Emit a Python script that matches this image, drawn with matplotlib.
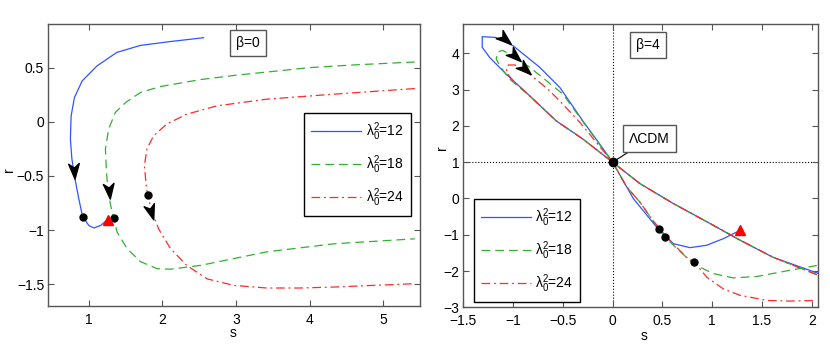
import numpy as np
import matplotlib
matplotlib.use('Agg')
import matplotlib.pyplot as plt
from matplotlib.markers import MarkerStyle
from matplotlib.path import Path
from matplotlib.transforms import Affine2D

plt.rcParams['font.family'] = ['Liberation Sans', 'DejaVu Sans']
plt.rcParams['mathtext.fontset'] = 'custom'
plt.rcParams['mathtext.rm'] = 'Liberation Sans'
plt.rcParams['mathtext.it'] = 'Liberation Sans'
plt.rcParams['mathtext.default'] = 'regular'

labels = [r'$\lambda_0^2$=12', r'$\lambda_0^2$=18', r'$\lambda_0^2$=24']

# ---- beta = 0 ----
s12_b0 = [2.56, 2.10, 1.70, 1.38, 1.11, 0.91, 0.805, 0.76, 0.75, 0.77, 0.805, 0.864, 0.914, 1.0, 1.07, 1.16, 1.26]
r12_b0 = [0.776, 0.74, 0.705, 0.64, 0.515, 0.377, 0.224, 0.055, -0.16, -0.34, -0.5, -0.71, -0.87, -0.957, -0.98, -0.957, -0.9]
s18_b0 = [5.43, 4.6, 4.0, 3.0, 2.52, 1.97, 1.70, 1.50, 1.36, 1.27, 1.226, 1.24, 1.27, 1.317, 1.385, 1.52, 1.70, 1.93, 2.11, 2.52, 3.42, 4.33, 5.43]
r18_b0 = [0.552, 0.525, 0.50, 0.43, 0.39, 0.325, 0.27, 0.178, 0.086, -0.067, -0.25, -0.466, -0.68, -0.834, -1.018, -1.17, -1.29, -1.356, -1.36, -1.325, -1.2, -1.126, -1.08]
s24_b0 = [5.43, 4.33, 3.42, 2.74, 2.33, 2.06, 1.88, 1.79, 1.756, 1.78, 1.80, 1.86, 1.95, 2.11, 2.33, 2.61, 2.97, 3.42, 3.87, 4.33, 5.43]
r24_b0 = [0.307, 0.255, 0.209, 0.147, 0.07, -0.02, -0.13, -0.25, -0.405, -0.59, -0.68, -0.834, -0.99, -1.17, -1.325, -1.45, -1.51, -1.534, -1.534, -1.525, -1.494]
dots_s_b0 = [0.918, 1.34, 1.80]
dots_r_b0 = [-0.874, -0.89, -0.68]
tri_b0 = (1.26, -0.905)
arrows_s_b0 = [0.796, 1.27, 1.84]
arrows_r_b0 = [-0.45, -0.635, -0.834]
arrows_ang_b0 = [-86, -84, -73]

# ---- beta = 4 ----
s12_b4 = [2.07, 1.61, 1.28, 0.978, 0.61, 0.274, 0.0, -0.30, -0.567, -0.834, -1.07, -1.236, -1.31, -1.31, -1.176,
          -1.0, -0.734, -0.53, -0.30, -0.13, 0.0, 0.207, 0.442, 0.465, 0.609, 0.777, 0.945, 1.11, 1.28]
r12_b4 = [-2.07, -1.62, -1.15, -0.69, -0.14, 0.41, 1.0, 1.64, 2.14, 2.83, 3.43, 3.89, 4.17, 4.46, 4.44,
          4.21, 3.62, 3.06, 2.14, 1.5, 1.0, 0.0, -0.79, -0.83, -1.246, -1.356, -1.29, -1.11, -0.88]
s18_b4 = [2.05, 1.61, 1.28, 0.978, 0.61, 0.274, 0.0, -0.30, -0.567, -0.834, -1.035, -1.135, -1.17, -1.15, -1.10,
          -0.834, -0.5, -0.23, 0.0, 0.14, 0.274, 0.39, 0.526, 0.74, 0.844, 1.01, 1.21, 1.45, 1.78, 2.05]
r18_b4 = [-2.1, -1.62, -1.15, -0.69, -0.14, 0.41, 1.0, 1.64, 2.14, 2.83, 3.29, 3.66, 3.85, 4.05, 4.08,
          3.62, 2.88, 1.86, 1.0, 0.32, -0.1, -0.56, -1.07, -1.62, -1.85, -2.07, -2.19, -2.15, -1.98, -1.85]
s24_b4 = [2.05, 1.61, 1.28, 0.978, 0.61, 0.274, 0.0, -0.30, -0.567, -0.834, -1.0, -1.07, -1.05, -0.98,
          -0.834, -0.633, -0.5, -0.33, 0.0, 0.14, 0.274, 0.39, 0.54, 0.74, 0.82, 0.945, 1.11, 1.28, 1.55, 1.78, 2.05]
r24_b4 = [-2.1, -1.62, -1.15, -0.69, -0.14, 0.41, 1.0, 1.64, 2.14, 2.83, 3.25, 3.48, 3.68, 3.68,
          3.43, 2.97, 2.6, 2.1, 1.0, 0.32, -0.1, -0.56, -1.06, -1.62, -1.75, -2.17, -2.49, -2.67, -2.81, -2.83, -2.81]
dots_s_b4 = [0.465, 0.526, 0.82]
dots_r_b4 = [-0.83, -1.06, -1.75]
tri_b4 = (1.28, -0.88)
lcdm = (0.0, 1.0)
arrows_s_b4 = [-1.085, -0.985, -0.885]
arrows_r_b4 = [4.4, 3.94, 3.57]
arrows_ang_b4 = [-40, -42, -42]

colors = ['#2f55ff', '#33b033', '#ff2a2a']
styles = ['-', (0, (7, 4)), (0, (7, 3, 1.5, 3))]
gray = '#555555'

chevron = Path([(1, 0), (-1, 0.7), (-0.45, 0), (-1, -0.7), (1, 0)],
               [Path.MOVETO, Path.LINETO, Path.LINETO, Path.LINETO, Path.CLOSEPOLY])


def arrow(ax, x, y, ang):
    m = MarkerStyle(chevron, transform=Affine2D().rotate_deg(ang))
    ax.plot(x, y, marker=m, ms=11, color='k', ls='none', zorder=6)


def style_axes(ax):
    for sp in ax.spines.values():
        sp.set_color(gray)
        sp.set_linewidth(1.0)
    ax.tick_params(direction='in', top=True, right=True, length=4, width=0.8,
                   color=gray, labelsize=10, pad=3)
    ax.tick_params(axis='x', pad=5)


fig = plt.figure(figsize=(8.3, 3.48), dpi=100)
ax0 = fig.add_axes([0.0582, 0.1207, 0.4478, 0.8095])
ax1 = fig.add_axes([0.5582, 0.117, 0.427, 0.813])

# left panel
for s, r, c, ls, lab in zip([s12_b0, s18_b0, s24_b0], [r12_b0, r18_b0, r24_b0], colors, styles, labels):
    ax0.plot(s, r, color=c, ls=ls, lw=0.9, label=lab)
ax0.plot(dots_s_b0, dots_r_b0, 'o', color='k', ms=5, zorder=5)
ax0.plot(*tri_b0, '^', color='red', ms=7, zorder=5)
for x, y, a in zip(arrows_s_b0, arrows_r_b0, arrows_ang_b0):
    arrow(ax0, x, y, a)
ax0.set_xlim(0.45, 5.5)
ax0.set_ylim(-1.7, 0.9)
ax0.set_xticks([1, 2, 3, 4, 5])
ax0.set_yticks([-1.5, -1, -0.5, 0, 0.5])
ax0.set_yticklabels(['\u22121.5', '\u22121', '\u22120.5', '0', '0.5'])
ax0.set_xlabel('s', fontsize=10)
ax0.set_ylabel('r', fontsize=10)
ax0.xaxis.set_label_coords(0.498, -0.072)
ax0.yaxis.set_label_coords(-0.088, 0.483)
ax0.text(0.537, 0.934, '\u03b2=0', transform=ax0.transAxes, ha='center', va='center', fontsize=10,
         bbox=dict(boxstyle='square,pad=0.45', fc='white', ec=gray, lw=1.0))
leg0 = ax0.legend(loc='upper left', bbox_to_anchor=(0.689, 0.684), borderaxespad=0, fontsize=10,
                  handlelength=3.6, labelspacing=0.75, borderpad=0.5, handletextpad=0.3,
                  fancybox=False, framealpha=1, edgecolor='k')
leg0.get_frame().set_linewidth(1.0)
style_axes(ax0)

# right panel
ax1.axvline(0, color='k', ls=':', lw=0.8, zorder=1)
ax1.axhline(1, color='k', ls=':', lw=0.8, zorder=1)
for s, r, c, ls, lab in zip([s12_b4, s18_b4, s24_b4], [r12_b4, r18_b4, r24_b4], colors, styles, labels):
    ax1.plot(s, r, color=c, ls=ls, lw=0.9, label=lab)
ax1.plot(dots_s_b4, dots_r_b4, 'o', color='k', ms=5, zorder=5)
ax1.plot(*tri_b4, '^', color='red', ms=7, zorder=5)
ax1.plot(*lcdm, 'o', color='k', ms=6, zorder=5)
for x, y, a in zip(arrows_s_b4, arrows_r_b4, arrows_ang_b4):
    arrow(ax1, x, y, a)
ax1.annotate('\u039bCDM', xy=lcdm, xytext=(0.37, 1.65), fontsize=10, ha='center', va='center',
             bbox=dict(boxstyle='square,pad=0.45', fc='white', ec=gray, lw=1.0),
             arrowprops=dict(arrowstyle='-', color='k', lw=0.8, shrinkA=0, shrinkB=2))
ax1.set_xlim(-1.5, 2.06)
ax1.set_ylim(-3, 4.8)
ax1.set_xticks([-1.5, -1, -0.5, 0, 0.5, 1, 1.5, 2])
ax1.set_xticklabels(['\u22121.5', '\u22121', '\u22120.5', '0', '0.5', '1', '1.5', '2'])
ax1.set_yticks([-3, -2, -1, 0, 1, 2, 3, 4])
ax1.set_yticklabels(['\u22123', '\u22122', '\u22121', '0', '1', '2', '3', '4'])
ax1.set_xlabel('s', fontsize=10)
ax1.set_ylabel('r', fontsize=10)
ax1.xaxis.set_label_coords(0.511, -0.076)
ax1.yaxis.set_label_coords(-0.040, 0.566)
ax1.text(0.521, 0.927, '\u03b2=4', transform=ax1.transAxes, ha='center', va='center', fontsize=10,
         bbox=dict(boxstyle='square,pad=0.45', fc='white', ec=gray, lw=1.0))
leg1 = ax1.legend(loc='upper left', bbox_to_anchor=(0.030, 0.382), borderaxespad=0, fontsize=10,
                  handlelength=3.6, labelspacing=0.75, borderpad=0.5, handletextpad=0.3,
                  fancybox=False, framealpha=1, edgecolor='k')
leg1.get_frame().set_linewidth(1.0)
style_axes(ax1)

fig.savefig('out.png', dpi=100)
